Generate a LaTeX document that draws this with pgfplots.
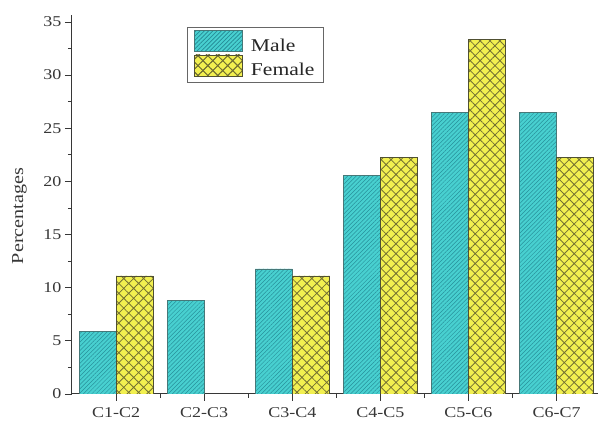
\documentclass[border=0pt]{standalone}
\usepackage{fontspec}
\setmainfont{Liberation Serif}[FakeStretch=1.2]
\usepackage{pgfplots}
\pgfplotsset{compat=1.18}
\usetikzlibrary{patterns.meta}
\definecolor{maleC}{RGB}{72,208,208}
\definecolor{maleL}{RGB}{40,145,155}
\definecolor{maleE}{RGB}{70,120,120}
\definecolor{femC}{RGB}{242,240,80}
\definecolor{femL}{RGB}{115,112,50}
\definecolor{femE}{RGB}{80,80,50}
\definecolor{axC}{RGB}{55,55,55}
\begin{document}
\begin{tikzpicture}
\begin{axis}[
  at={(0,0)}, anchor=south west,
  scale only axis, width=526pt, height=379pt,
  xmin=-0.5, xmax=5.47, ymin=0, ymax=35.65,
  axis x line*=bottom, axis y line*=left,
  axis line style={axC, line width=1pt},
  xtick={0,1,2,3,4,5},
  xticklabels={C1-C2,C2-C3,C3-C4,C4-C5,C5-C6,C6-C7},
  minor xtick={0.5,1.5,2.5,3.5,4.5},
  ytick={0,5,10,15,20,25,30,35},
  minor ytick={2.5,7.5,12.5,17.5,22.5,27.5,32.5},
  tick align=outside, major tick length=7pt, minor tick length=4pt,
  tick style={axC, line width=0.8pt},
  ticklabel style={font=\fontsize{15}{17}\selectfont, text=axC},
  xticklabel style={yshift=-3pt},
  /pgf/number format/assume math mode=true,
  ylabel={Percentages},
  ylabel style={font=\fontsize{16.8}{18}\selectfont, text=axC, at={(axis description cs:-0.0998,0.47)}, anchor=center},
  legend style={at={(axis description cs:0.2186,0.9683)}, anchor=north west,
    draw=gray!80!black, line width=0.8pt, fill=white,
    inner xsep=7pt, inner ysep=3pt, row sep=0pt,
    font=\fontsize{18}{20}\selectfont, text=black!85,
    /tikz/every odd column/.append style={column sep=6pt}},
  legend cell align=left,
]
\addplot[ybar, bar width=0.42, bar shift=-0.21, fill=maleC, draw=maleE, line width=0.6pt,
  postaction={pattern={Lines[angle=45,distance=3pt,line width=0.5pt]}, pattern color=maleL},
  legend image code/.code={\draw[fill=maleC, draw=none, postaction={pattern={Lines[angle=45,distance=3pt,line width=0.5pt]}, pattern color=maleL}] (0pt,-6pt) rectangle (48pt,15pt);}]
  coordinates {(0,5.88) (1,8.82) (2,11.76) (3,20.59) (4,26.47) (5,26.47)};
\addlegendentry{Male}
\addplot[ybar, bar width=0.42, bar shift=0.21, fill=femC, draw=femE, line width=0.6pt,
  postaction={pattern={Hatch[angle=45,distance=7pt,line width=0.8pt]}, pattern color=femL},
  legend image code/.code={\draw[fill=femC, draw=none, postaction={pattern={Hatch[angle=45,distance=7pt,line width=0.8pt]}, pattern color=femL}] (0pt,-6pt) rectangle (48pt,15pt);}]
  coordinates {(0,11.11) (2,11.11) (3,22.22) (4,33.33) (5,22.22)};
\addlegendentry{Female}
\end{axis}
\path (-72pt,-28pt) rectangle (528pt,394pt);
\end{tikzpicture}
\end{document}
